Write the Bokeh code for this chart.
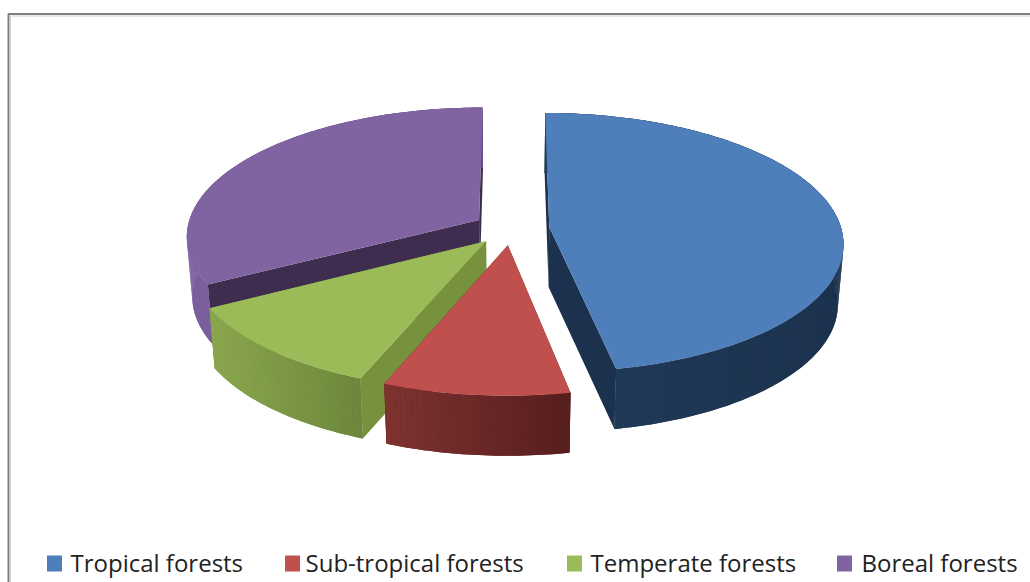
from math import pi, sin, cos

from bokeh.core.properties import value
from bokeh.embed import file_html
from bokeh.models import ColumnDataSource, Range1d
from bokeh.plotting import figure
from bokeh.resources import INLINE

# Forest share by biome, in percent
categories = ["Tropical forests", "Sub-tropical forests", "Temperate forests", "Boreal forests"]
shares = [47, 9, 11, 33]
top_colors = ["#4e7fbb", "#bf504d", "#9bbb59", "#8064a2"]
rim_left = ["#223b5a", "#7f3331", "#8ba84f", "#7d619f"]
rim_right = ["#1c324e", "#561e1d", "#6c873b", "#6a5088"]
wall_colors = ["#1b314d", "#5a2120", "#76923c", "#3f2d4f"]
legend_x = [46, 284, 566, 836]
legend_label_x = [70, 305, 590, 861]

# Pie projection settings, in page pixels
WIDTH, HEIGHT = 1030, 582
CX, CY = 511, 228
RX, RY = 292, 128
PERSPECTIVE = 0.12
EXPLODE = 0.13
DEPTH = 60
BASE_SHRINK = 0.983
STEP_DEG = 1.0


def project(u, v, lowered=False):
    d = 1 + PERSPECTIVE * v
    x = CX + RX * u / d
    y = CY - RY * v / d
    if lowered:
        x = CX + (x - CX) * BASE_SHRINK
        y += DEPTH
    return x, y


def mix(c1, c2, t):
    a = [int(c1[i:i + 2], 16) for i in (1, 3, 5)]
    b = [int(c2[i:i + 2], 16) for i in (1, 3, 5)]
    return "#%02x%02x%02x" % tuple(round(p + (q - p) * t) for p, q in zip(a, b))


p = figure(width=WIDTH, height=HEIGHT, toolbar_location=None, output_backend="svg",
           x_range=Range1d(0, WIDTH), y_range=Range1d(HEIGHT, 0),
           min_border=0, outline_line_color=None, background_fill_color="#ffffff")
p.xaxis.visible = False
p.yaxis.visible = False
p.grid.visible = False

# Chart frame: top and left edges only, the rest runs off the page
p.line([WIDTH, 8, 8], [13.5, 13.5, HEIGHT], line_color="#808080", line_width=2)
p.line([WIDTH, 10, 10], [15.5, 15.5, HEIGHT], line_color="#d4d4d4", line_width=1)

# Slice geometry from the shares, clockwise from twelve o'clock
total = sum(shares)
slices = []
start = 0.0
for share in shares:
    sweep = 360.0 * share / total
    slices.append((start, start + sweep))
    start += sweep

# Back-most slice first so nearer ones paint over it
for i in (3, 2, 1, 0):
    a0, a1 = slices[i]
    mid = pi * (a0 + a1) / 360
    ox, oy = EXPLODE * sin(mid), EXPLODE * cos(mid)
    n = int((a1 - a0) / STEP_DEG) + 1
    angles = [pi / 180 * (a0 + (a1 - a0) * k / n) for k in range(n + 1)]
    rim = [(ox + sin(t), oy + cos(t)) for t in angles]
    apex = (ox, oy)

    # Radial walls behind the top face
    for edge in (rim[0], rim[-1]):
        pts = [project(*apex), project(*edge), project(*edge, True), project(*apex, True)]
        p.patch([q[0] for q in pts], [q[1] for q in pts], fill_color=wall_colors[i],
                line_color=None)

    # Solid rim underneath, so the shaded strips above it leave no pale seams
    x_values = [project(*q)[0] for q in rim]
    lo, hi = min(x_values), max(x_values)
    band = [project(*q) for q in rim] + [project(*q, True) for q in reversed(rim)]
    p.patch([q[0] for q in band], [q[1] for q in band],
            fill_color=mix(rim_left[i], rim_right[i], 0.5), line_color=None)

    # Outer rim shading, lighter towards the left
    xs, ys, fills = [], [], []
    for k in range(n):
        pts = [project(*rim[k]), project(*rim[k + 1]),
               project(*rim[k + 1], True), project(*rim[k], True)]
        xs.append([q[0] for q in pts])
        ys.append([q[1] for q in pts])
        fills.append(mix(rim_left[i], rim_right[i], (x_values[k] - lo) / (hi - lo)))
    p.patches(xs="xs", ys="ys", fill_color="fills", line_color=None,
              source=ColumnDataSource(dict(xs=xs, ys=ys, fills=fills)))

    # Top face
    top = [project(*apex)] + [project(*q) for q in rim]
    p.patch([q[0] for q in top], [q[1] for q in top], fill_color=top_colors[i],
            line_color=None)

# Legend row
p.rect(x=[x + 8 for x in legend_x], y=[563] * 4, width=15, height=16, fill_color=top_colors,
       line_color=None)
p.text(x=legend_label_x, y=[562] * 4, text=categories, text_font=value("Open Sans"),
       text_font_size="24px", text_color="#222222", text_baseline="middle", text_align="left")

open("out.html", "w").write(file_html(p, INLINE))
